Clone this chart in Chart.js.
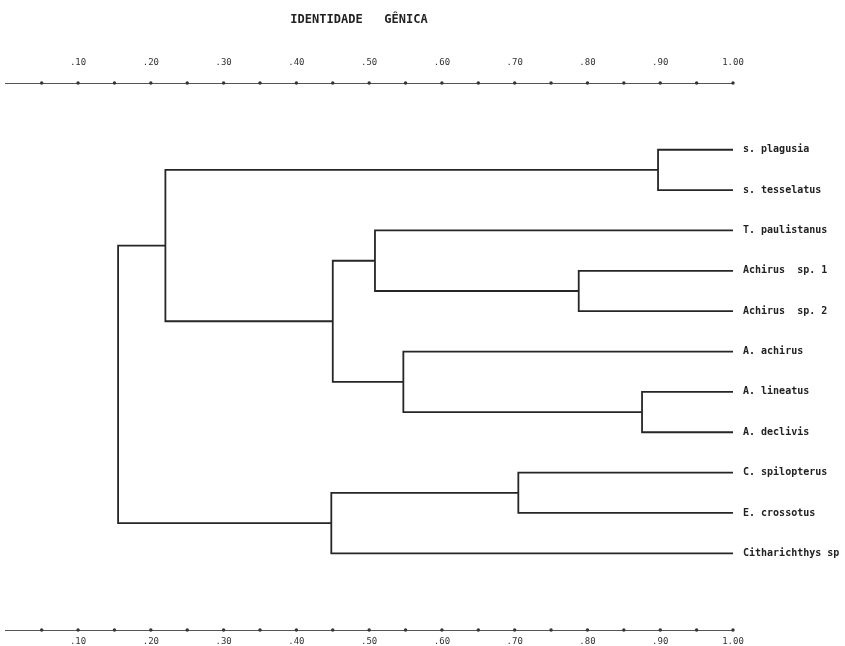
<!DOCTYPE html>
<html><head><meta charset="utf-8">
<script src="https://cdn.jsdelivr.net/npm/chart.js@4"></script>
<style>html,body{margin:0;padding:0;background:#fff;}canvas{display:block;}</style>
</head><body>
<canvas id="c" width="845" height="646"></canvas>
<script>
// ---- data ----
const chartTitle = 'IDENTIDADE   GÊNICA';
const leafNames = ['s. plagusia', 's. tesselatus', 'T. paulistanus', 'Achirus  sp. 1', 'Achirus  sp. 2',
  'A. achirus', 'A. lineatus', 'A. declivis', 'C. spilopterus', 'E. crossotus', 'Citharichthys sp'];
// merges: leaves are 0..10, merge k creates node 11+k
const mergeA = [0, 6, 3, 8, 5, 2, 16, 14, 11, 19];
const mergeB = [1, 7, 4, 9, 12, 13, 15, 10, 17, 18];
const mergeSimilarity = [0.897, 0.875, 0.788, 0.705, 0.547, 0.508, 0.450, 0.448, 0.220, 0.155];
const axisDotValues = [0.05, 0.10, 0.15, 0.20, 0.25, 0.30, 0.35, 0.40, 0.45, 0.50,
  0.55, 0.60, 0.65, 0.70, 0.75, 0.80, 0.85, 0.90, 0.95, 1.00];
const axisLabelValues = [0.10, 0.20, 0.30, 0.40, 0.50, 0.60, 0.70, 0.80, 0.90, 1.00];
const axisLabels = ['.10', '.20', '.30', '.40', '.50', '.60', '.70', '.80', '.90', '1.00'];

// ---- layout constants ----
const ROW_MIN = -1.654, ROW_MAX = 11.9;
const INK = '#262626';

// ---- dendrogram geometry (standard midpoint layout) ----
const nodeX = leafNames.map(() => 1.0);
const nodeY = leafNames.map((_, i) => i);
mergeA.forEach((a, k) => {
  const b = mergeB[k];
  nodeX.push(mergeSimilarity[k]);
  nodeY.push((nodeY[a] + nodeY[b]) / 2);
});
const datasets = mergeA.map((a, k) => {
  const b = mergeB[k], h = mergeSimilarity[k];
  return {
    type: 'scatter', showLine: true, tension: 0, fill: false,
    borderColor: INK, borderWidth: 1.8, pointRadius: 0,
    data: [{x: nodeX[a], y: nodeY[a]}, {x: h, y: nodeY[a]}, {x: h, y: nodeY[b]}, {x: nodeX[b], y: nodeY[b]}]
  };
});
[ROW_MIN, ROW_MAX].forEach(r => datasets.push({
  type: 'scatter', showLine: false, clip: false,
  pointRadius: 1.7, pointStyle: 'circle', backgroundColor: '#333', borderWidth: 0,
  data: axisDotValues.map(v => ({x: v, y: r}))
}));

const titlePlugin = {
  id: 'topTitle',
  afterDraw(chart) {
    const ctx = chart.ctx;
    ctx.save();
    ctx.font = 'bold 12px "DejaVu Sans Mono"';
    ctx.fillStyle = '#222';
    ctx.textAlign = 'center';
    ctx.textBaseline = 'middle';
    ctx.fillText(chartTitle, 359, 20);
    ctx.restore();
  }
};

const tickFont = {family: '"DejaVu Sans Mono"', size: 9};
function xAxis(position, height, pad) {
  return {
    type: 'linear', position, min: 0, max: 1,
    grid: {display: false, drawTicks: false, tickLength: 0},
    border: {display: true, color: '#555', width: 1},
    ticks: {
      autoSkip: false, maxRotation: 0, minRotation: 0, padding: pad, color: '#333', font: tickFont,
      callback: (v, i) => axisLabels[i]
    },
    afterBuildTicks: s => { s.ticks = axisLabelValues.map(v => ({value: v})); },
    afterFit: s => { s.height = height; }
  };
}

new Chart(document.getElementById('c'), {
  type: 'scatter',
  data: {datasets},
  plugins: [titlePlugin],
  options: {
    responsive: false, animation: false, devicePixelRatio: 1,
    layout: {padding: {left: 5.3, right: 0, top: 0, bottom: 0}},
    plugins: {legend: {display: false}, tooltip: {enabled: false}},
    scales: {
      x: xAxis('bottom', 14, 6.5),
      x2: xAxis('top', 83, 15),
      y: {
        type: 'linear', position: 'right', reverse: true, min: ROW_MIN, max: ROW_MAX,
        grid: {display: false, drawTicks: false, tickLength: 0},
        border: {display: false},
        ticks: {
          autoSkip: false, padding: 10, color: '#222',
          font: {family: '"DejaVu Sans Mono"', size: 10, weight: 'bold'},
          callback: (v, i) => leafNames[i]
        },
        afterBuildTicks: s => { s.ticks = leafNames.map((_, i) => ({value: i})); },
        afterFit: s => { s.width = 112; }
      }
    }
  }
});
</script>
</body></html>
